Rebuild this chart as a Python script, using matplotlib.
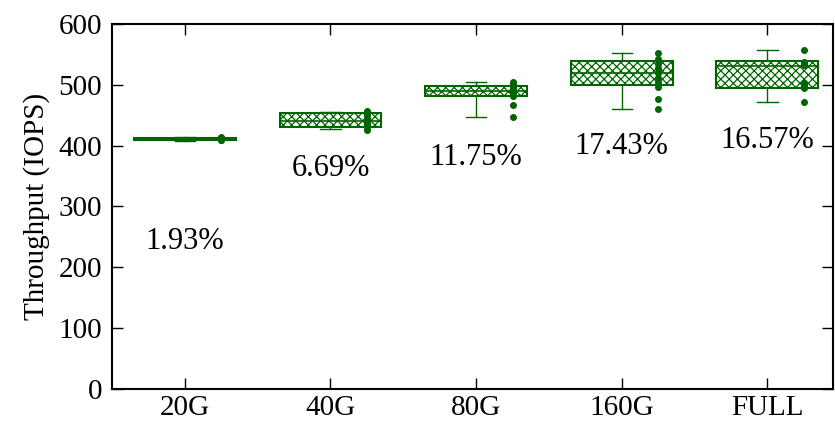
import matplotlib
matplotlib.use('Agg')
import matplotlib.pyplot as plt

plt.rcParams['font.family'] = ['Liberation Serif', 'DejaVu Serif']
plt.rcParams['hatch.linewidth'] = 0.9
plt.rcParams['hatch.color'] = '#006400'

categories = ['20G', '40G', '80G', '160G', 'FULL']
whisker_lo = [408, 427, 447, 461, 472]
q1 = [409.5, 431, 482, 500, 494]
median = [411, 441, 490, 520, 531]
q3 = [412.5, 453, 498, 539, 539]
whisker_hi = [414, 456, 504, 552, 557]
samples = [
    [409, 410, 411, 411, 412, 413, 414],
    [426, 430, 434, 438, 442, 446, 450, 454, 457],
    [447, 467, 482, 486, 490, 494, 498, 502, 505],
    [461, 477, 497, 505, 512, 520, 527, 535, 543, 552],
    [472, 494, 498, 503, 532, 535, 538, 557],
]
pct_labels = ['1.93%', '6.69%', '11.75%', '17.43%', '16.57%']
label_y = [243, 362, 381, 398, 409]

green = '#006400'

fig = plt.figure(figsize=(8.35, 4.22), dpi=100)
ax = fig.add_axes([112 / 835, 1 - 389 / 422, 721 / 835, 365 / 422])

stats = []
for i in range(len(categories)):
    stats.append({'med': median[i], 'q1': q1[i], 'q3': q3[i],
                  'whislo': whisker_lo[i], 'whishi': whisker_hi[i], 'fliers': []})

pos = list(range(len(categories)))
bp = ax.bxp(stats, positions=pos, widths=0.7, capwidths=0.14, patch_artist=True,
            showfliers=False,
            boxprops=dict(facecolor='white', edgecolor=green, linewidth=1.5, hatch='xxxx'),
            medianprops=dict(color=green, linewidth=1.2),
            whiskerprops=dict(color=green, linewidth=1),
            capprops=dict(color=green, linewidth=1))
for box in bp['boxes']:
    box.set_zorder(2)

# raw samples beside each box
for i, vals in enumerate(samples):
    ax.plot([i + 0.25] * len(vals), vals, 'o', color=green, markersize=4, zorder=3)

for i, txt in enumerate(pct_labels):
    ax.text(i, label_y[i], txt, ha='center', va='center', fontsize=22)

ax.set_xlim(-0.5, 4.45)
ax.set_ylim(0, 600)
ax.set_yticks(range(0, 601, 100))
ax.set_xticks(pos)
ax.set_xticklabels(categories)
ax.set_ylabel('Throughput (IOPS)', fontsize=21, labelpad=6)
ax.tick_params(direction='in', top=True, right=True, labelsize=21, length=8, width=1)
ax.tick_params(axis='y', pad=7)
ax.tick_params(axis='x', pad=4)
for s in ax.spines.values():
    s.set_linewidth(1.5)

fig.savefig('out.png', dpi=100)
